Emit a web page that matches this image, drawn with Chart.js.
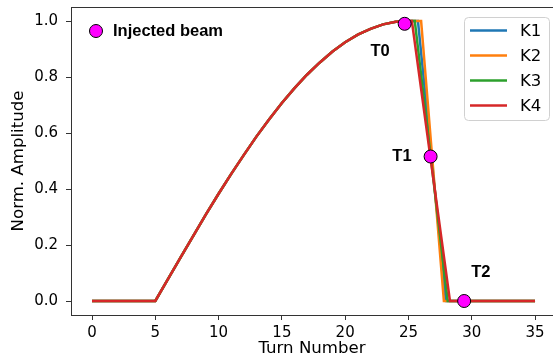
<!DOCTYPE html>
<html>
<head>
<meta charset="utf-8">
<script src="https://cdn.jsdelivr.net/npm/chart.js@4.4.1/dist/chart.umd.min.js"></script>
<style>
html, body { margin: 0; padding: 0; background: #fff; overflow: hidden; }
</style>
</head>
<body>
<canvas id="kickChart" width="553" height="363"></canvas>
<script>
// -------------------------------------------------------------------------- Data

// common rising edge (same for every kicker)
const riseTurns = [0, 5, 6, 7, 8, 9, 10, 11, 12, 13, 14, 15, 16, 17, 18, 19, 20, 21, 22, 23, 24, 25]
const riseAmp = [0, 0, 0.078, 0.156, 0.233, 0.309, 0.383, 0.454, 0.522, 0.588, 0.649, 0.707, 0.760, 0.809, 0.852, 0.891, 0.924, 0.951, 0.972, 0.988, 0.997, 1.0]

// falling edge per kicker: [flat top end, reaches zero, end]
const kickers = ['K1', 'K2', 'K3', 'K4']
const fallTurns = [
    [25.75, 27.96, 35],
    [26.0, 27.8, 35],
    [25.5, 28.1, 35],
    [25.27, 28.28, 35]
]
const fallAmp = [1.0, 0.0, 0.0]
const kickColors = ['#1f77b4', '#ff7f0e', '#2ca02c', '#d62728']

// marker points
const markLabels = ['T0', 'T1', 'T2']
const markTurns = [24.7, 26.75, 29.4]
const markAmp = [0.99, 0.516, 0.0]

const xTicks = [0, 5, 10, 15, 20, 25, 30, 35]
const yTicks = [0, 0.2, 0.4, 0.6, 0.8, 1.0]

// -------------------------------------------------------------------------- Datasets

const lineSets = kickers.map((name, i) => {
    const pts = riseTurns.map((t, j) => ({ x: t, y: riseAmp[j] }))
    fallTurns[i].forEach((t, j) => pts.push({ x: t, y: fallAmp[j] }))
    return {
        label: name,
        data: pts,
        showLine: true,
        borderColor: kickColors[i],
        backgroundColor: kickColors[i],
        borderWidth: 2.5,
        pointRadius: 0,
        tension: 0,
        order: 4 - i
    }
})

const markerSet = {
    label: 'Injected beam',
    data: markTurns.map((t, i) => ({ x: t, y: markAmp[i] })),
    showLine: false,
    pointRadius: 6.5,
    pointBackgroundColor: '#ff00ff',
    pointBorderColor: '#000',
    pointBorderWidth: 1,
    order: 0
}

// -------------------------------------------------------------------------- Plugins

const boldFont = 'bold 16.5px "Liberation Sans", Arial, sans-serif'

const extras = {
    id: 'extras',
    afterDraw(chart) {
        const ctx = chart.ctx
        const area = chart.chartArea
        const xs = chart.scales.x
        const ys = chart.scales.y
        ctx.save()

        // top spine
        ctx.strokeStyle = '#333'
        ctx.lineWidth = 1
        ctx.beginPath()
        ctx.moveTo(area.left, area.top + 0.5)
        ctx.lineTo(area.right, area.top + 0.5)
        ctx.stroke()

        // T labels
        ctx.fillStyle = '#000'
        ctx.font = boldFont
        ctx.textBaseline = 'middle'
        const offs = [[-15, 28, 'right'], [-19, 0, 'right'], [7, -29, 'left']]
        markLabels.forEach((lab, i) => {
            const px = xs.getPixelForValue(markTurns[i])
            const py = ys.getPixelForValue(markAmp[i])
            ctx.textAlign = offs[i][2]
            ctx.fillText(lab, px + offs[i][0], py + offs[i][1])
        })

        // injected beam legend
        ctx.beginPath()
        ctx.arc(96, 31, 6.5, 0, Math.PI * 2)
        ctx.fillStyle = '#ff00ff'
        ctx.fill()
        ctx.strokeStyle = '#000'
        ctx.stroke()
        ctx.fillStyle = '#000'
        ctx.textAlign = 'left'
        ctx.fillText('Injected beam', 113, 31)

        // kicker legend
        ctx.beginPath()
        ctx.roundRect(464.5, 17.5, 85, 103, 4)
        ctx.fillStyle = 'rgba(255,255,255,0.8)'
        ctx.fill()
        ctx.strokeStyle = '#d0d0d0'
        ctx.stroke()
        ctx.font = '16.5px "DejaVu Sans", sans-serif'
        kickers.forEach((name, i) => {
            const y = 30.5 + i * 25
            ctx.strokeStyle = kickColors[i]
            ctx.lineWidth = 2.5
            ctx.beginPath()
            ctx.moveTo(470, y)
            ctx.lineTo(507, y)
            ctx.stroke()
            ctx.fillStyle = '#000'
            ctx.fillText(name, 520, y + 1)
        })
        ctx.restore()
    }
}

// -------------------------------------------------------------------------- Config

const tickFont = { family: 'DejaVu Sans', size: 15 }
const titleFont = { family: 'DejaVu Sans', size: 16.6 }

const config = {
    type: 'scatter',
    data: { datasets: [...lineSets, markerSet] },
    options: {
        responsive: false,
        animation: false,
        devicePixelRatio: 1,
        layout: { autoPadding: false, padding: { top: 7, left: 0, right: 0, bottom: 0 } },
        plugins: {
            legend: { display: false },
            tooltip: { enabled: false }
        },
        scales: {
            x: {
                type: 'linear',
                min: -1.66,
                max: 36.42,
                afterBuildTicks: s => { s.ticks = xTicks.map(v => ({ value: v })) },
                afterFit: s => { s.height = 48; s.paddingLeft = 0; s.paddingRight = 0 },
                ticks: { font: tickFont, color: '#000', padding: 4, maxRotation: 0 },
                grid: { drawOnChartArea: false, tickLength: 5, color: '#333' },
                border: { color: '#333', width: 1 },
                title: { display: true, text: 'Turn Number', font: titleFont, color: '#000', padding: { top: 0, bottom: 4 } }
            },
            y: {
                min: -0.05,
                max: 1.05,
                afterBuildTicks: s => { s.ticks = yTicks.map(v => ({ value: v })) },
                afterFit: s => { s.width = 71; s.paddingTop = 0; s.paddingBottom = 0 },
                ticks: { font: tickFont, color: '#000', padding: 8, callback: v => v.toFixed(1) },
                grid: { drawOnChartArea: false, tickLength: 5, color: '#333' },
                border: { color: '#333', width: 1 },
                title: { display: true, text: 'Norm. Amplitude', font: titleFont, color: '#000', padding: { top: 9, bottom: 0 } }
            }
        }
    },
    plugins: [extras]
}

let kickChart = new Chart(document.getElementById('kickChart'), config)
</script>
</body>
</html>
